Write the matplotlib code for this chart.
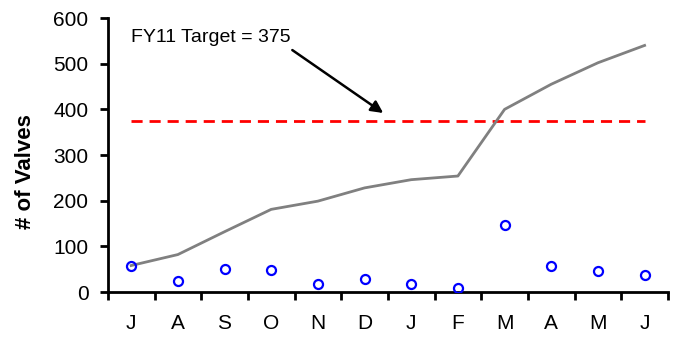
import numpy as np
import matplotlib.pyplot as plt

plt.rcParams['font.family'] = ['Liberation Sans', 'DejaVu Sans']

months = ['J', 'A', 'S', 'O', 'N', 'D', 'J', 'F', 'M', 'A', 'M', 'J']
monthly = [58, 24, 50, 49, 18, 29, 18, 8, 146, 56, 47, 37]
cumulative = [58, 82, 132, 181, 199, 228, 246, 254, 400, 455, 502, 540]
target = 375
yticks = [0, 100, 200, 300, 400, 500, 600]

fig = plt.figure(figsize=(6.74, 3.37), dpi=100)
ax = fig.add_axes([0.160, 0.1335, 0.831, 0.813])

x = np.arange(len(months))
ax.plot(x, cumulative, color='#808080', lw=2, zorder=2)
ax.plot(x, monthly, 'o', ms=6.5, mfc='none', mec='#0000ff', mew=1.6, zorder=3)
ax.plot([x[0], x[-1]], [target, target], color='#ff0000', lw=2,
        dashes=(4, 2.5), zorder=1)

ax.annotate('FY11 Target = 375', xy=(5.4, 392), xytext=(0.0, 558),
            fontsize=14, va='center', ha='left',
            arrowprops=dict(arrowstyle='-|>', color='black', lw=1.8,
                            mutation_scale=18, shrinkA=2, shrinkB=0,
                            relpos=(0.97, 0.0)))

ax.set_xlim(-0.5, len(months) - 0.5)
ax.set_ylim(0, 600)
ax.set_yticks(yticks)
ax.set_xticks(x)
ax.set_xticklabels(months)
ax.set_xticks(np.arange(-0.5, len(months)), minor=True)
ax.tick_params(axis='x', which='major', length=0, pad=16, labelsize=15)
ax.tick_params(axis='x', which='minor', length=6, width=2, direction='out')
ax.tick_params(axis='y', length=6, width=2, direction='out', labelsize=15, pad=8)
ax.set_ylabel('# of Valves', fontsize=16, fontweight='bold')
ax.yaxis.set_label_coords(-0.128, 0.44)

for side in ['top', 'right']:
    ax.spines[side].set_visible(False)
for side in ['left', 'bottom']:
    ax.spines[side].set_linewidth(2)

fig.savefig('out.png', dpi=100)
